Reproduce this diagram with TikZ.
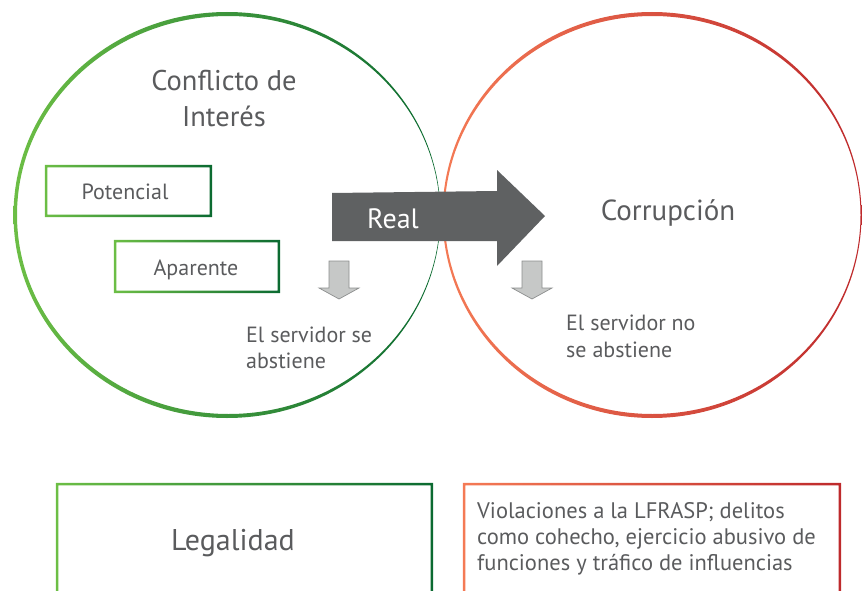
\documentclass[tikz,border=0pt]{standalone}
\usepackage{fontspec}
\setmainfont{PT Sans}
\usetikzlibrary{calc}
\definecolor{greenlight}{HTML}{6CBE45}
\definecolor{greendark}{HTML}{0B6A31}
\definecolor{orangelight}{HTML}{F47A55}
\definecolor{reddark}{HTML}{BE2A2C}
\definecolor{textgrey}{HTML}{5A5B5D}
\definecolor{arrowgrey}{HTML}{5F6162}
\definecolor{smallfill}{HTML}{C6C8C7}
\definecolor{smallline}{HTML}{8C8E8E}
\newcommand{\gradframe}[3]{% shaded border round a named box
  \shade[left color=#2,right color=#3,even odd rule] (#1.north west) rectangle (#1.south east)
    ([shift={(2.5,2.5)}]#1.north west) rectangle ([shift={(-2.5,-2.5)}]#1.south east);}

\begin{document}
\begin{tikzpicture}[x=1pt,y=-1pt,
    txt/.style={text=textgrey,inner sep=0pt},
    box/.style={inner sep=0pt},
    smallarrow/.style={fill=smallfill,draw=smallline,line width=0.7pt,line join=miter}]

    \useasboundingbox (0,0) rectangle (862,591);

    % the two rings
    \shade[left color=greenlight,right color=greendark,even odd rule]
      (227,215) ellipse [x radius=213.5,y radius=203]
      (228.5,215) ellipse [x radius=211.5,y radius=199];
    \shade[left color=orangelight,right color=reddark,even odd rule]
      (652,215) ellipse [x radius=209.5,y radius=203]
      (652.5,215) ellipse [x radius=208,y radius=199];

    % last line sits on the given point
    \node[txt,align=center,font=\fontsize{28.5}{36}\selectfont,anchor=base] (conflicto) at (224,127) {Conflicto de\\Interés};
    \node[txt,font=\fontsize{29}{32}\selectfont,anchor=base] (corrupcion) at (668,220) {Corrupción};

    % boxes inside the left ring
    \node[box,minimum width=167,minimum height=52] (potencial) at (128.5,191) {};
    \node[box,minimum width=166,minimum height=53] (aparente) at (197,266.5) {};
    \gradframe{potencial}{greenlight}{greendark}
    \gradframe{aparente}{greenlight}{greendark}
    \node[txt,font=\fontsize{22}{26}\selectfont,anchor=base] (potencialtxt) at (125,199) {Potencial};
    \node[txt,font=\fontsize{22}{26}\selectfont,anchor=base] (aparentetxt) at (196,275) {Aparente};

    % big arrow
    \fill[arrowgrey] (332,193) -- (497,191) -- (497,170) -- (545,216) -- (497,266) -- (497,241) -- (332,241) -- cycle;
    \node[txt,text=white,font=\fontsize{28}{32}\selectfont,anchor=base] (real) at (393,228) {Real};

    % small arrows
    \foreach \ax in {339,532}{%
      \draw[smallarrow] (\ax-10,261) -- (\ax+10,261) -- (\ax+10,288) -- (\ax+20,288)
        -- (\ax,299) -- (\ax-20,288) -- (\ax-10,288) -- cycle;
    }

    \node[txt,align=left,font=\fontsize{22}{26}\selectfont,anchor=base west] (seabstiene) at (246,368) {El servidor se\\abstiene};
    \node[txt,align=left,font=\fontsize{22}{27}\selectfont,anchor=base west] (noabstiene) at (566,357) {El servidor no\\se abstiene};

    % bottom boxes
    \node[box,minimum width=377,minimum height=120] (legalidadbox) at (244.5,543) {};
    \node[box,minimum width=378,minimum height=120] (violacionbox) at (652,543) {};
    \gradframe{legalidadbox}{greenlight}{greendark}
    \gradframe{violacionbox}{orangelight}{reddark}
    \node[txt,font=\fontsize{30}{34}\selectfont,anchor=base] (legalidad) at (233,550) {Legalidad};
    \node[txt,align=left,font=\fontsize{22.5}{26}\selectfont,anchor=base west] (violaciones) at (477,570)
      {Violaciones a la LFRASP; delitos\\como cohecho, ejercicio abusivo de\\funciones y tráfico de influencias};

\end{tikzpicture}
\end{document}
